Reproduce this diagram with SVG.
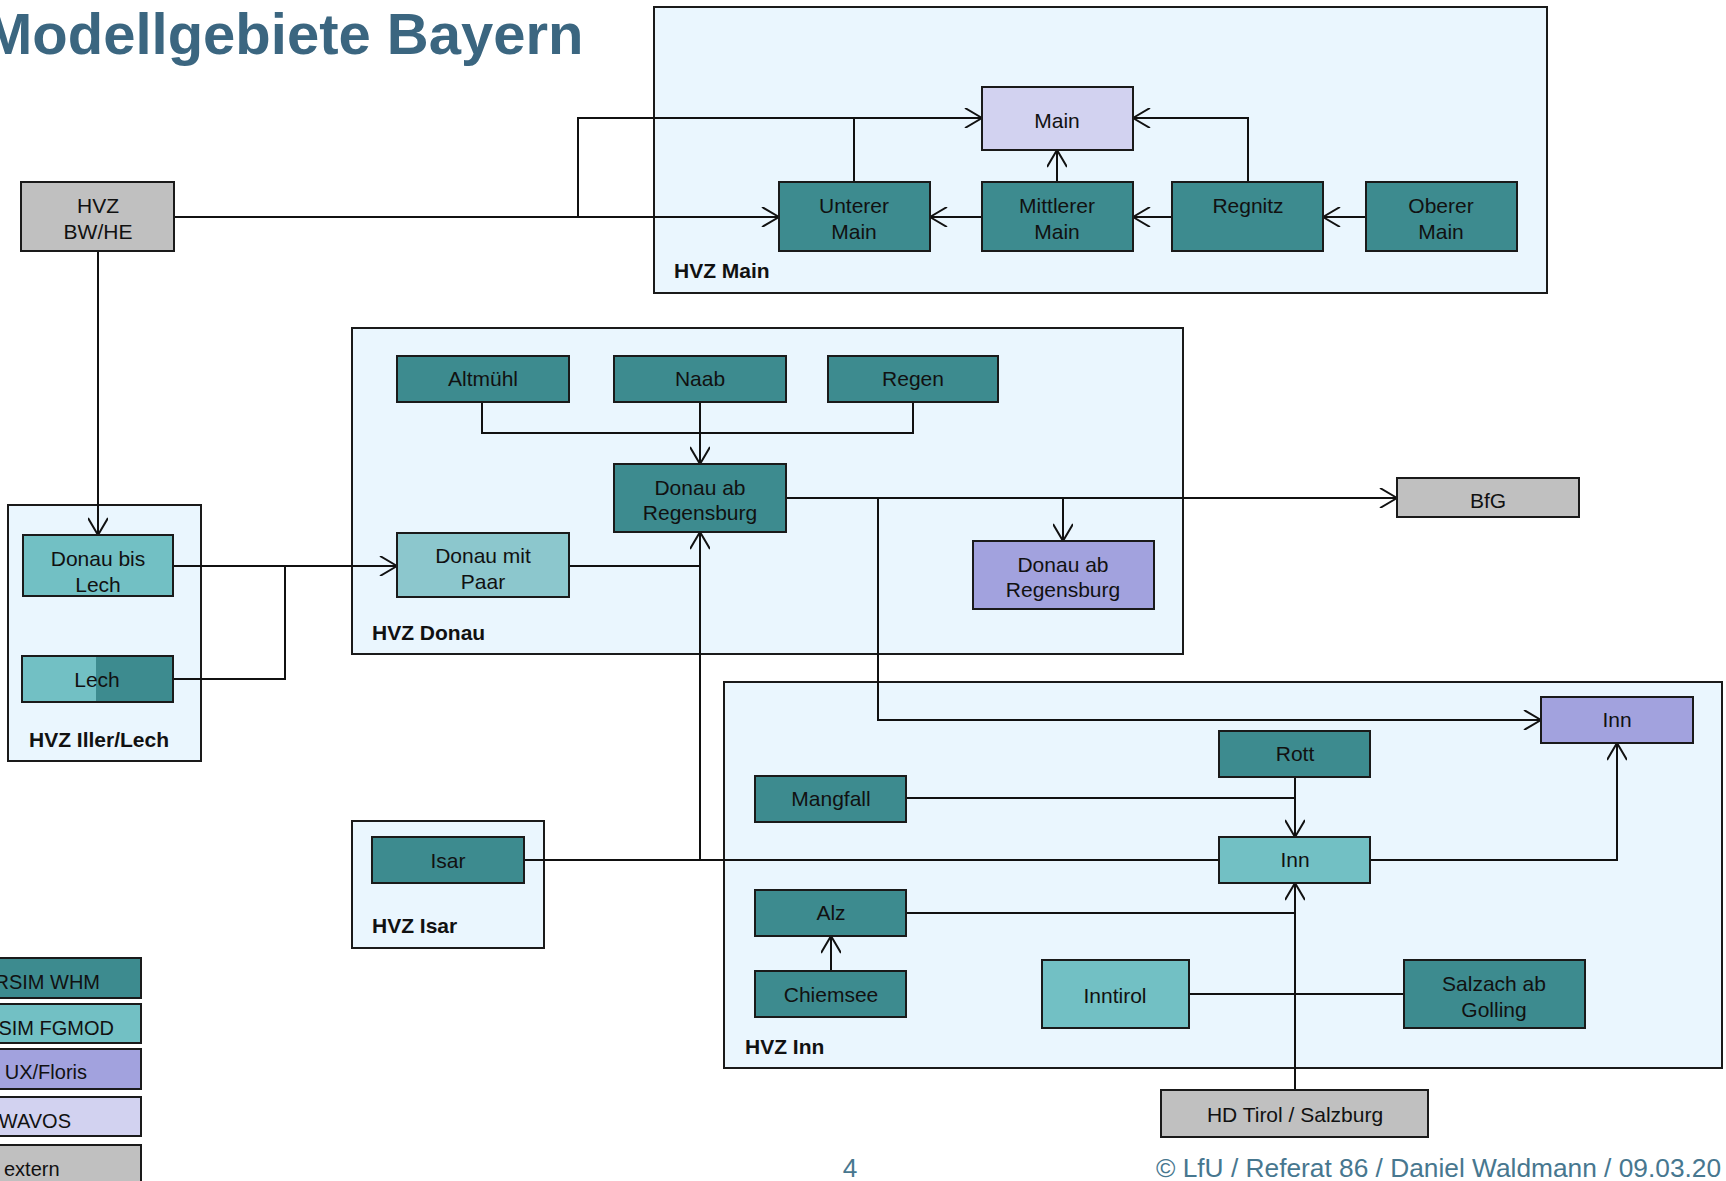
<svg xmlns="http://www.w3.org/2000/svg" width="1726" height="1181" viewBox="0 0 1726 1181">
  <style>
    text { font-family: "Liberation Sans", Arial, sans-serif; }
    .zone { fill: #eaf6fe; stroke: #1a1a1a; stroke-width: 2; }
    .zl { font-size: 21px; font-weight: bold; fill: #111; }
    .n rect { stroke: #1a1a1a; stroke-width: 2; }
    .n text { font-size: 21px; fill: #111; text-anchor: middle; }
    .whm { fill: #3d8b8f; }
    .fg { fill: #72c0c4; }
    .paar { fill: #8cc7cd; }
    .flux { fill: #a2a2de; }
    .wavos { fill: #d2d2f0; }
    .ext { fill: #c0c0c0; }
    .c path { fill: none; stroke: #111; stroke-width: 2; }
    .arr { marker-end: url(#ah); }
    .lg text { font-size: 20px; fill: #111; }
    .title { font-size: 58px; font-weight: bold; fill: #3b6680; }
    .foot { font-size: 26.3px; fill: #47778f; }
  </style>
  <defs>
    <marker id="ah" viewBox="0 0 20 20" refX="19" refY="10" markerWidth="20" markerHeight="20" markerUnits="userSpaceOnUse" orient="auto">
      <path d="M2,0 L19,10 L2,20" fill="none" stroke="#111" stroke-width="2"/>
    </marker>
  </defs>

  <rect width="1726" height="1181" fill="#ffffff"/>

  <text class="title" x="-16" y="54">Modellgebiete Bayern</text>

  <!-- forecast-centre containers -->
  <g id="hvz-main"><rect class="zone" x="654" y="7" width="893" height="286"/><text class="zl" x="674" y="278">HVZ Main</text></g>
  <g id="hvz-donau"><rect class="zone" x="352" y="328" width="831" height="326"/><text class="zl" x="372" y="640">HVZ Donau</text></g>
  <g id="hvz-iller-lech"><rect class="zone" x="8" y="505" width="193" height="256"/><text class="zl" x="29" y="747">HVZ Iller/Lech</text></g>
  <g id="hvz-isar"><rect class="zone" x="352" y="821" width="192" height="127"/><text class="zl" x="372" y="933">HVZ Isar</text></g>
  <g id="hvz-inn"><rect class="zone" x="724" y="682" width="998" height="386"/><text class="zl" x="745" y="1054">HVZ Inn</text></g>

  <!-- connectors -->
  <g id="connectors" class="c">
    <path class="arr" d="M174,217 H779"/>
    <path class="arr" d="M578,217 V118 H982"/>
    <path d="M854,182 V118"/>
    <path class="arr" d="M982,217 H930"/>
    <path class="arr" d="M1057,182 V150"/>
    <path class="arr" d="M1172,217 H1133"/>
    <path class="arr" d="M1248,182 V118 H1133"/>
    <path class="arr" d="M1366,217 H1323"/>
    <path class="arr" d="M98,251 V535"/>
    <path class="arr" d="M173,566 H397"/>
    <path d="M173,679 H285 V566"/>
    <path d="M482,402 V433 H913 V402"/>
    <path class="arr" d="M700,402 V464"/>
    <path d="M570,566 H700"/>
    <path class="arr" d="M524,860 H700 V532"/>
    <path d="M1219,860 H700"/>
    <path class="arr" d="M787,498 H1397"/>
    <path class="arr" d="M1063,498 V541"/>
    <path class="arr" d="M878,498 V720 H1541"/>
    <path class="arr" d="M1295,777 V837"/>
    <path d="M906,798 H1295"/>
    <path class="arr" d="M1370,860 H1617 V743"/>
    <path class="arr" d="M1295,1090 V883"/>
    <path d="M906,913 H1295"/>
    <path class="arr" d="M831,971 V936"/>
    <path d="M1189,994 H1404"/>
  </g>

  <!-- nodes -->
  <g id="bw-he" class="n"><rect class="ext" x="21" y="182" width="153" height="69"/><text x="98" y="213">HVZ</text><text x="98" y="239">BW/HE</text></g>
  <g id="main" class="n"><rect class="wavos" x="982" y="87" width="151" height="63"/><text x="1057" y="128">Main</text></g>
  <g id="unterer-main" class="n"><rect class="whm" x="779" y="182" width="151" height="69"/><text x="854" y="213">Unterer</text><text x="854" y="239">Main</text></g>
  <g id="mittlerer-main" class="n"><rect class="whm" x="982" y="182" width="151" height="69"/><text x="1057" y="213">Mittlerer</text><text x="1057" y="239">Main</text></g>
  <g id="regnitz" class="n"><rect class="whm" x="1172" y="182" width="151" height="69"/><text x="1248" y="213">Regnitz</text></g>
  <g id="oberer-main" class="n"><rect class="whm" x="1366" y="182" width="151" height="69"/><text x="1441" y="213">Oberer</text><text x="1441" y="239">Main</text></g>

  <g id="altmuehl" class="n"><rect class="whm" x="397" y="356" width="172" height="46"/><text x="483" y="386">Altmühl</text></g>
  <g id="naab" class="n"><rect class="whm" x="614" y="356" width="172" height="46"/><text x="700" y="386">Naab</text></g>
  <g id="regen" class="n"><rect class="whm" x="828" y="356" width="170" height="46"/><text x="913" y="386">Regen</text></g>
  <g id="donau-regensburg" class="n"><rect class="whm" x="614" y="464" width="172" height="68"/><text x="700" y="495">Donau ab</text><text x="700" y="520">Regensburg</text></g>
  <g id="donau-paar" class="n"><rect class="paar" x="397" y="533" width="172" height="64"/><text x="483" y="563">Donau mit</text><text x="483" y="589">Paar</text></g>
  <g id="donau-regensburg-flux" class="n"><rect class="flux" x="973" y="541" width="181" height="68"/><text x="1063" y="572">Donau ab</text><text x="1063" y="597">Regensburg</text></g>
  <g id="bfg" class="n"><rect class="ext" x="1397" y="478" width="182" height="39"/><text x="1488" y="508">BfG</text></g>

  <g id="donau-lech" class="n"><rect class="fg" x="23" y="535" width="150" height="61"/><text x="98" y="566">Donau bis</text><text x="98" y="592">Lech</text></g>
  <g id="lech" class="n">
    <rect class="fg" x="22" y="656" width="151" height="46"/>
    <rect class="whm" x="96" y="657" width="76" height="44" style="stroke:none"/>
    <rect x="22" y="656" width="151" height="46" fill="none"/>
    <text x="97" y="687">Lech</text>
  </g>

  <g id="isar" class="n"><rect class="whm" x="372" y="837" width="152" height="46"/><text x="448" y="868">Isar</text></g>

  <g id="inn-flux" class="n"><rect class="flux" x="1541" y="697" width="152" height="46"/><text x="1617" y="727">Inn</text></g>
  <g id="rott" class="n"><rect class="whm" x="1219" y="731" width="151" height="46"/><text x="1295" y="761">Rott</text></g>
  <g id="mangfall" class="n"><rect class="whm" x="755" y="776" width="151" height="46"/><text x="831" y="806">Mangfall</text></g>
  <g id="inn" class="n"><rect class="fg" x="1219" y="837" width="151" height="46"/><text x="1295" y="867">Inn</text></g>
  <g id="alz" class="n"><rect class="whm" x="755" y="890" width="151" height="46"/><text x="831" y="920">Alz</text></g>
  <g id="chiemsee" class="n"><rect class="whm" x="755" y="971" width="151" height="46"/><text x="831" y="1002">Chiemsee</text></g>
  <g id="inntirol" class="n"><rect class="fg" x="1042" y="960" width="147" height="68"/><text x="1115" y="1003">Inntirol</text></g>
  <g id="salzach" class="n"><rect class="whm" x="1404" y="960" width="181" height="68"/><text x="1494" y="991">Salzach ab</text><text x="1494" y="1017">Golling</text></g>
  <g id="hd-tirol" class="n"><rect class="ext" x="1161" y="1090" width="267" height="47"/><text x="1295" y="1122">HD Tirol / Salzburg</text></g>

  <!-- legend -->
  <g id="legend" class="lg">
    <rect class="whm" x="-72" y="958" width="213" height="40" stroke="#1a1a1a" stroke-width="2"/>
    <text x="100" y="989" text-anchor="end">RSIM WHM</text>
    <rect class="fg" x="-72" y="1004" width="213" height="39" stroke="#1a1a1a" stroke-width="2"/>
    <text x="114" y="1035" text-anchor="end">SIM FGMOD</text>
    <rect class="flux" x="-72" y="1049" width="213" height="40" stroke="#1a1a1a" stroke-width="2"/>
    <text x="87" y="1079" text-anchor="end">UX/Floris</text>
    <rect class="wavos" x="-72" y="1097" width="213" height="39" stroke="#1a1a1a" stroke-width="2"/>
    <text x="71" y="1128" text-anchor="end">WAVOS</text>
    <rect class="ext" x="-72" y="1145" width="213" height="50" stroke="#1a1a1a" stroke-width="2"/>
    <text x="4" y="1176">extern</text>
  </g>

  <text class="foot" x="850" y="1177" text-anchor="middle">4</text>
  <text class="foot" x="1156" y="1177">© LfU / Referat 86 / Daniel Waldmann / 09.03.20</text>
</svg>
